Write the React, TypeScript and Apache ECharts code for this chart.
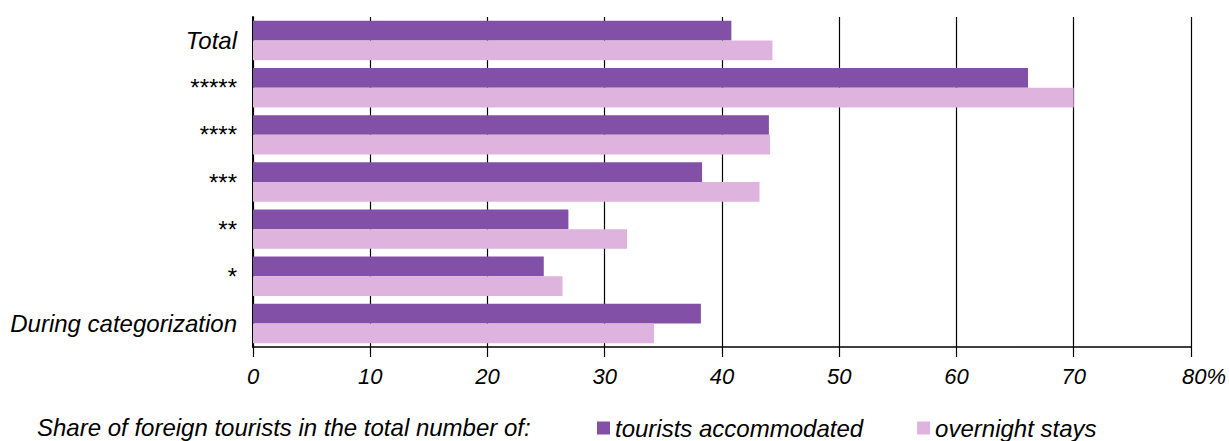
import React, { useEffect, useRef } from "react";
import * as echarts from "echarts";

const categories = ["Total", "*****", "****", "***", "**", "*", "During categorization"];
const touristsAccommodated = [40.8, 66.1, 44.0, 38.3, 26.9, 24.8, 38.2];
const overnightStays = [44.3, 70.0, 44.1, 43.2, 31.9, 26.4, 34.2];
const seriesNames = ["tourists accommodated", "overnight stays"];
const legendTitle = "Share of foreign tourists in the total number of:";

const FONT = '"Liberation Sans", Arial, sans-serif';
const DARK = "#8350A8";
const LIGHT = "#DEB3DD";

export default function App() {
  const ref = useRef<HTMLDivElement>(null);
  useEffect(() => {
    if (!ref.current) return;
    const chart = echarts.init(ref.current, null, { renderer: "svg" });
    chart.setOption({
      animation: false,
      backgroundColor: "#ffffff",
      grid: { left: 253, right: 38, top: 17, bottom: 94, containLabel: false },
      legend: {
        left: 592,
        top: 411,
        itemWidth: 13,
        itemHeight: 13,
        itemGap: 54,
        icon: "rect",
        textStyle: { fontFamily: FONT, fontSize: 24, fontStyle: "italic", color: "#000" },
        data: seriesNames,
      },
      graphic: [
        {
          type: "text",
          left: 37,
          top: 415,
          style: { text: legendTitle, font: `italic 24px ${FONT}`, fill: "#000" },
        },
      ],
      xAxis: {
        type: "value",
        min: 0,
        max: 80,
        interval: 10,
        axisLine: { show: true, lineStyle: { color: "#000", width: 1.5 } },
        axisTick: { show: true, length: 10, lineStyle: { color: "#000", width: 1.2 } },
        splitLine: { show: true, lineStyle: { color: "#000", width: 1.2 } },
        axisLabel: {
          margin: 18,
          color: "#000",
          fontFamily: FONT,
          fontSize: 22,
          fontStyle: "italic",
          formatter: (v: number) => (v === 80 ? "{p|80%}" : String(v)),
          rich: {
            p: {
              fontFamily: FONT,
              fontSize: 22,
              fontStyle: "italic",
              color: "#000",
              padding: [0, 0, 0, 26],
            },
          },
        },
      },
      yAxis: {
        type: "category",
        inverse: true,
        data: categories,
        axisLine: { show: true, lineStyle: { color: "#000", width: 2 } },
        axisTick: { show: false },
        splitLine: { show: false },
        axisLabel: {
          margin: 16,
          color: "#000",
          formatter: (v: string) => (/^\*+$/.test(v) ? `{s|${v}}` : `{t|${v}}`),
          rich: {
            s: { fontFamily: FONT, fontSize: 24, fontStyle: "normal", color: "#000" },
            t: { fontFamily: FONT, fontSize: 24, fontStyle: "italic", color: "#000" },
          },
        },
      },
      series: [
        {
          name: seriesNames[0],
          type: "bar",
          data: touristsAccommodated,
          barGap: "0%",
          barCategoryGap: "16.4%",
          itemStyle: { color: DARK },
        },
        {
          name: seriesNames[1],
          type: "bar",
          data: overnightStays,
          barGap: "0%",
          barCategoryGap: "16.4%",
          itemStyle: { color: LIGHT },
        },
      ],
    });
    return () => chart.dispose();
  }, []);
  return (
    <div
      ref={ref}
      style={{ position: "fixed", left: 0, top: 0, width: 1229, height: 441, background: "#fff" }}
    />
  );
}
